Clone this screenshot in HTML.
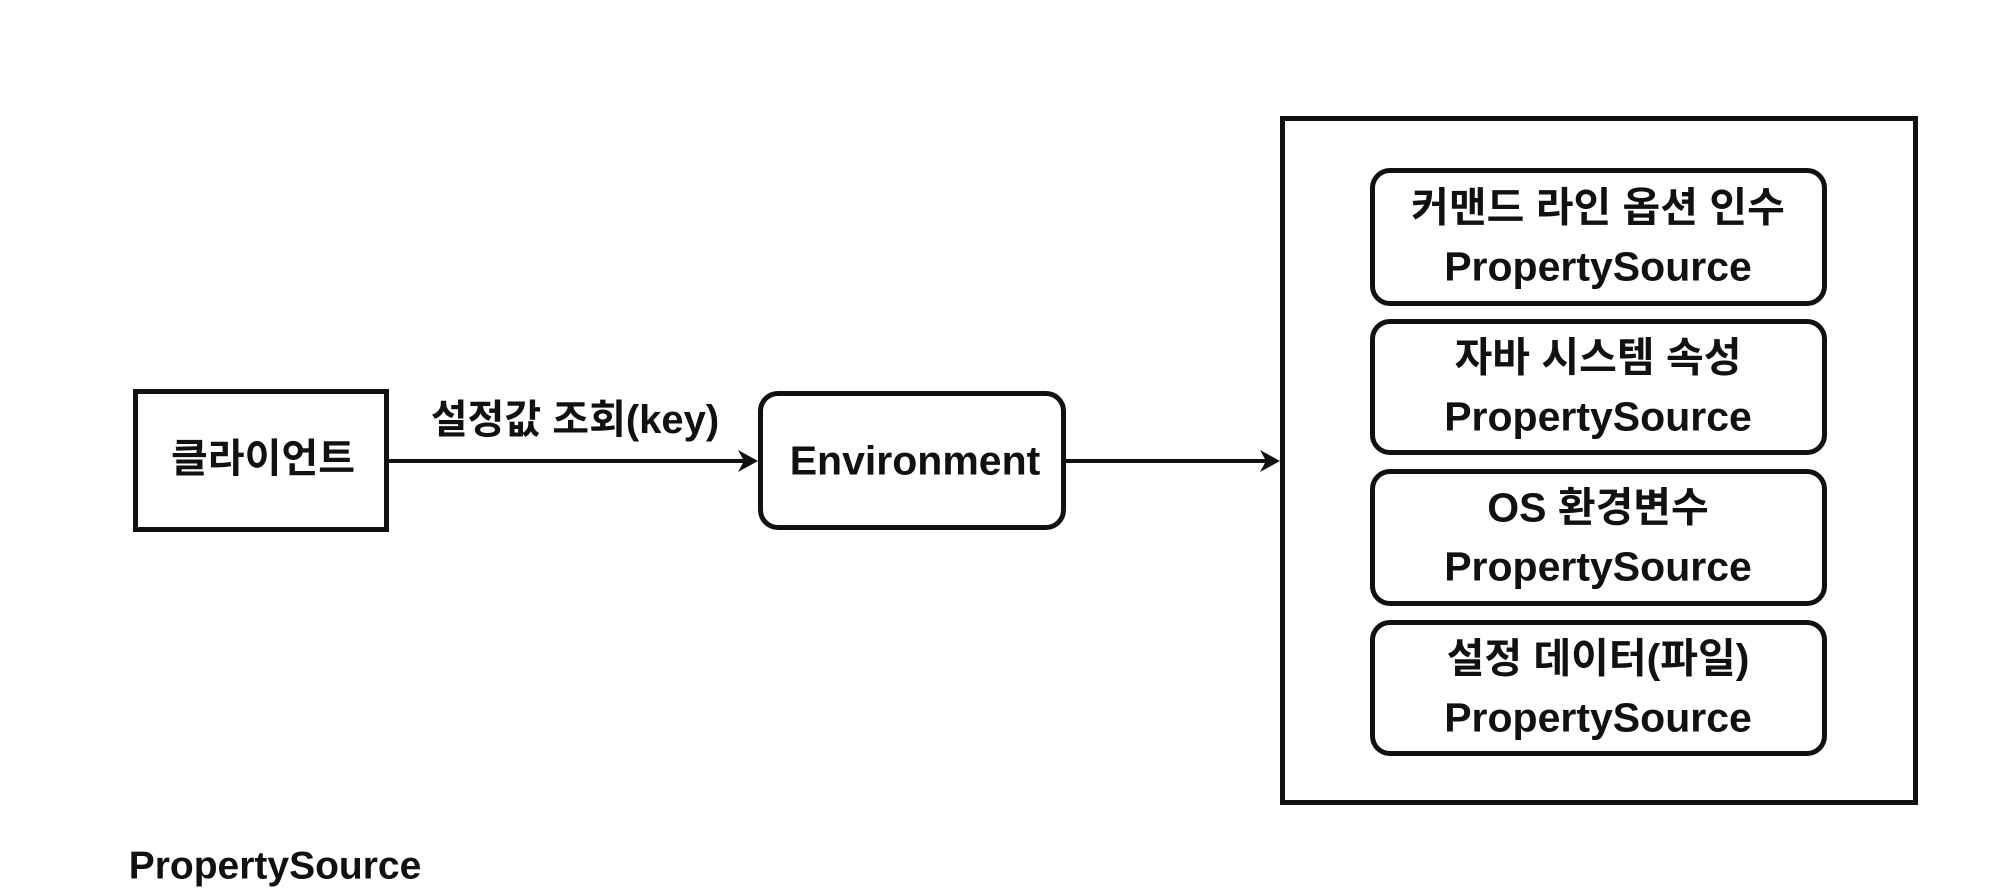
<!DOCTYPE html>
<html><head><meta charset="utf-8"><style>
html,body{margin:0;padding:0;background:#fff;width:2014px;height:892px;overflow:hidden;position:relative;font-family:"Liberation Sans","Noto Sans CJK KR",sans-serif;font-weight:bold;color:#111}
.b{position:absolute;box-sizing:border-box;border:5px solid #111;background:#fff}
.t{position:absolute;white-space:nowrap;text-align:center;transform:translate(-50%,-50%);font-size:41px;line-height:1}
.in{border-radius:20px}
</style></head><body>
<div class="b" style="left:133px;top:389px;width:256px;height:143px"></div>
<div class="t" style="left:263px;top:459px;font-size:40px">클라이언트</div>
<div class="b in" style="left:758px;top:391px;width:308px;height:139px"></div>
<div class="t" style="left:915px;top:461px">Environment</div>
<div class="t" style="left:575px;top:420px;font-size:40px">설정값 조회(key)</div>
<svg style="position:absolute;left:0;top:0" width="2014" height="892">
<line x1="389" y1="461" x2="746" y2="461" stroke="#111" stroke-width="4"/>
<polygon points="758,461 738,450 744,461 738,472" fill="#111"/>
<line x1="1066" y1="461" x2="1268" y2="461" stroke="#111" stroke-width="4"/>
<polygon points="1280,461 1260,450 1266,461 1260,472" fill="#111"/>
</svg>
<div class="b" style="left:1280px;top:116px;width:638px;height:689px"></div>
<div class="b in" style="left:1370px;top:168px;width:457px;height:138px"></div>
<div class="t" style="left:1598px;top:208px">커맨드 라인 옵션 인수</div>
<div class="t" style="left:1598px;top:267px">PropertySource</div>
<div class="b in" style="left:1370px;top:319px;width:457px;height:136px"></div>
<div class="t" style="left:1598px;top:358px">자바 시스템 속성</div>
<div class="t" style="left:1598px;top:417px">PropertySource</div>
<div class="b in" style="left:1370px;top:469px;width:457px;height:137px"></div>
<div class="t" style="left:1598px;top:508px">OS 환경변수</div>
<div class="t" style="left:1598px;top:567px">PropertySource</div>
<div class="b in" style="left:1370px;top:620px;width:457px;height:136px"></div>
<div class="t" style="left:1598px;top:659px">설정 데이터(파일)</div>
<div class="t" style="left:1598px;top:718px">PropertySource</div>
<div class="t" style="left:275px;top:866px;font-size:39px">PropertySource</div>
</body></html>
